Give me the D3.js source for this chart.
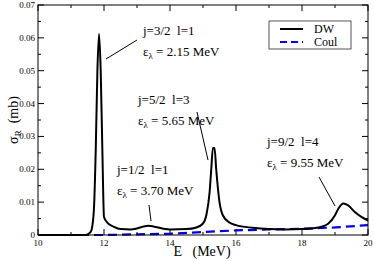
<!DOCTYPE html>
<html>
<head>
<meta charset="utf-8">
<script src="https://cdn.jsdelivr.net/npm/d3@7"></script>
<style>
  body { margin: 0; background: #fff; }
</style>
</head>
<body>
<div id="chart"></div>
<script>
// energies and cross sections
const dwE = [10, 11, 11.4, 11.5, 11.6, 11.65, 11.7, 11.75, 11.8, 11.85, 11.9, 11.95, 12.0, 12.1, 12.3, 12.5, 12.8, 13.0, 13.2, 13.35, 13.5, 13.8, 14.0, 14.5, 14.8, 15.0, 15.1, 15.2, 15.25, 15.3, 15.35, 15.4, 15.5, 15.6, 15.8, 16.0, 16.5, 17.0, 17.5, 18.0, 18.5, 18.8, 19.0, 19.1, 19.25, 19.4, 19.6, 19.8, 20.0];
const dwSigma = [0, 0, 0, 0.0002, 0.001, 0.003, 0.009, 0.026, 0.05, 0.0612, 0.05, 0.026, 0.0055, 0.0038, 0.0025, 0.0018, 0.0017, 0.002, 0.0026, 0.0028, 0.0026, 0.0019, 0.0017, 0.0018, 0.0023, 0.0035, 0.006, 0.013, 0.02, 0.0265, 0.0265, 0.02, 0.01, 0.006, 0.0038, 0.003, 0.0022, 0.0018, 0.0017, 0.0018, 0.0023, 0.0035, 0.006, 0.008, 0.0096, 0.009, 0.007, 0.0055, 0.0044];

const coulE = [10, 12, 12.5, 13, 14, 15, 16, 17, 18, 19, 20];
const coulSigma = [0, 0, 0.0001, 0.0002, 0.0004, 0.0009, 0.0014, 0.0017, 0.0019, 0.0023, 0.003];

const xMajor = [10, 12, 14, 16, 18, 20];
const yMajor = [0, 0.01, 0.02, 0.03, 0.04, 0.05, 0.06, 0.07];

const W = 374, H = 261;
const margin = { left: 38, right: 6, top: 5, bottom: 26 };
const serif = "'Liberation Serif', 'Times New Roman', Times, 'DejaVu Serif', serif";

const svg = d3.select("#chart").append("svg")
    .attr("width", W).attr("height", H)
    .attr("font-family", serif)
    .style("font-family", serif);

const x = d3.scaleLinear().domain([10, 20]).range([margin.left, W - margin.right]);
const y = d3.scaleLinear().domain([0, 0.07]).range([H - margin.bottom, margin.top]);

const x0 = x(10), x1 = x(20), y0 = y(0), y1 = y(0.07);

// ticks (inward, on all four sides)
const xMinor = d3.range(11, 20, 2);
const yMinor = d3.range(0.005, 0.07, 0.01);
const tickG = svg.append("g").attr("stroke", "#000").attr("stroke-width", 1);
function vTicks(vals, len) {
    vals.forEach(v => {
        tickG.append("line").attr("x1", x(v)).attr("x2", x(v)).attr("y1", y0).attr("y2", y0 - len);
        tickG.append("line").attr("x1", x(v)).attr("x2", x(v)).attr("y1", y1).attr("y2", y1 + len);
    });
}
function hTicks(vals, len) {
    vals.forEach(v => {
        tickG.append("line").attr("y1", y(v)).attr("y2", y(v)).attr("x1", x0).attr("x2", x0 + len);
        tickG.append("line").attr("y1", y(v)).attr("y2", y(v)).attr("x1", x1).attr("x2", x1 - len);
    });
}
vTicks(xMajor, 6); vTicks(xMinor, 3);
hTicks(yMajor, 6); hTicks(yMinor, 3);

// tick labels
svg.append("g").selectAll("text").data(xMajor).join("text")
    .attr("x", d => x(d)).attr("y", y0 + 11)
    .attr("text-anchor", "middle").attr("font-size", 9)
    .text(d => d);
svg.append("g").selectAll("text").data(yMajor).join("text")
    .attr("x", x0 - 3).attr("y", d => y(d) + 3)
    .attr("text-anchor", "end").attr("font-size", 9)
    .text(d => d === 0 ? "0" : d.toFixed(2));

// curves
svg.append("path")
    .datum(d3.zip(coulE, coulSigma))
    .attr("d", d3.line().x(d => x(d[0])).y(d => y(d[1])))
    .attr("fill", "none")
    .attr("stroke", "#0000e0").attr("stroke-width", 2.2)
    .attr("stroke-dasharray", "9,5");
svg.append("path")
    .datum(d3.zip(dwE, dwSigma))
    .attr("d", d3.line().curve(d3.curveMonotoneX).x(d => x(d[0])).y(d => y(d[1])))
    .attr("fill", "none").attr("stroke", "#000").attr("stroke-width", 2);

// frame
svg.append("rect").attr("x", x0).attr("y", y1)
    .attr("width", x1 - x0).attr("height", y0 - y1)
    .attr("fill", "none").attr("stroke", "#000").attr("stroke-width", 1);

// axis titles
svg.append("text").attr("x", 202).attr("y", 256)
    .attr("text-anchor", "middle").attr("font-size", 14)
    .attr("xml:space", "preserve")
    .text("E   (MeV)");
const yt = svg.append("text").attr("transform", "translate(18,120) rotate(-90)")
    .attr("text-anchor", "middle").attr("font-size", 14)
    .attr("xml:space", "preserve");
yt.append("tspan").text("σ");
yt.append("tspan").attr("font-size", 9).attr("dy", 3).text("R");
yt.append("tspan").attr("dy", -3).text("  (mb)");

// annotations
const notes = [
    { j: "j=3/2  l=1", e: "2.15", tx: 143, ty: 35, from: [106, 59], to: [137, 40] },
    { j: "j=5/2  l=3", e: "5.65", tx: 138, ty: 104, from: [197, 112], to: [208, 160] },
    { j: "j=1/2  l=1", e: "3.70", tx: 117, ty: 174, from: [149, 205], to: [151, 221] },
    { j: "j=9/2  l=4", e: "9.55", tx: 267, ty: 146, from: [319, 177], to: [335, 206] }
];
notes.forEach(n => {
    svg.append("text").attr("x", n.tx).attr("y", n.ty).attr("font-size", 13)
        .attr("xml:space", "preserve").text(n.j);
    const t = svg.append("text").attr("x", n.tx).attr("y", n.ty + 21).attr("font-size", 13)
        .attr("xml:space", "preserve");
    t.append("tspan").text("ε");
    t.append("tspan").attr("font-size", 9).attr("dy", 3).text("λ");
    t.append("tspan").attr("dy", -3).text(" = " + n.e + " MeV");
    svg.append("line").attr("x1", n.from[0]).attr("y1", n.from[1])
        .attr("x2", n.to[0]).attr("y2", n.to[1])
        .attr("stroke", "#000").attr("stroke-width", 1);
});

// legend
const lg = svg.append("g");
lg.append("rect").attr("x", 269).attr("y", 21).attr("width", 82).attr("height", 28)
    .attr("fill", "#fff").attr("stroke", "#555").attr("stroke-width", 1);
lg.append("line").attr("x1", 280).attr("x2", 303).attr("y1", 29).attr("y2", 29)
    .attr("stroke", "#000").attr("stroke-width", 2);
lg.append("line").attr("x1", 280).attr("x2", 303).attr("y1", 42).attr("y2", 42)
    .attr("stroke", "#0000e0").attr("stroke-width", 2.2).attr("stroke-dasharray", "7,4");
lg.append("text").attr("x", 314).attr("y", 33).attr("font-size", 12).text("DW");
lg.append("text").attr("x", 314).attr("y", 46).attr("font-size", 12).text("Coul");
</script>
</body>
</html>
